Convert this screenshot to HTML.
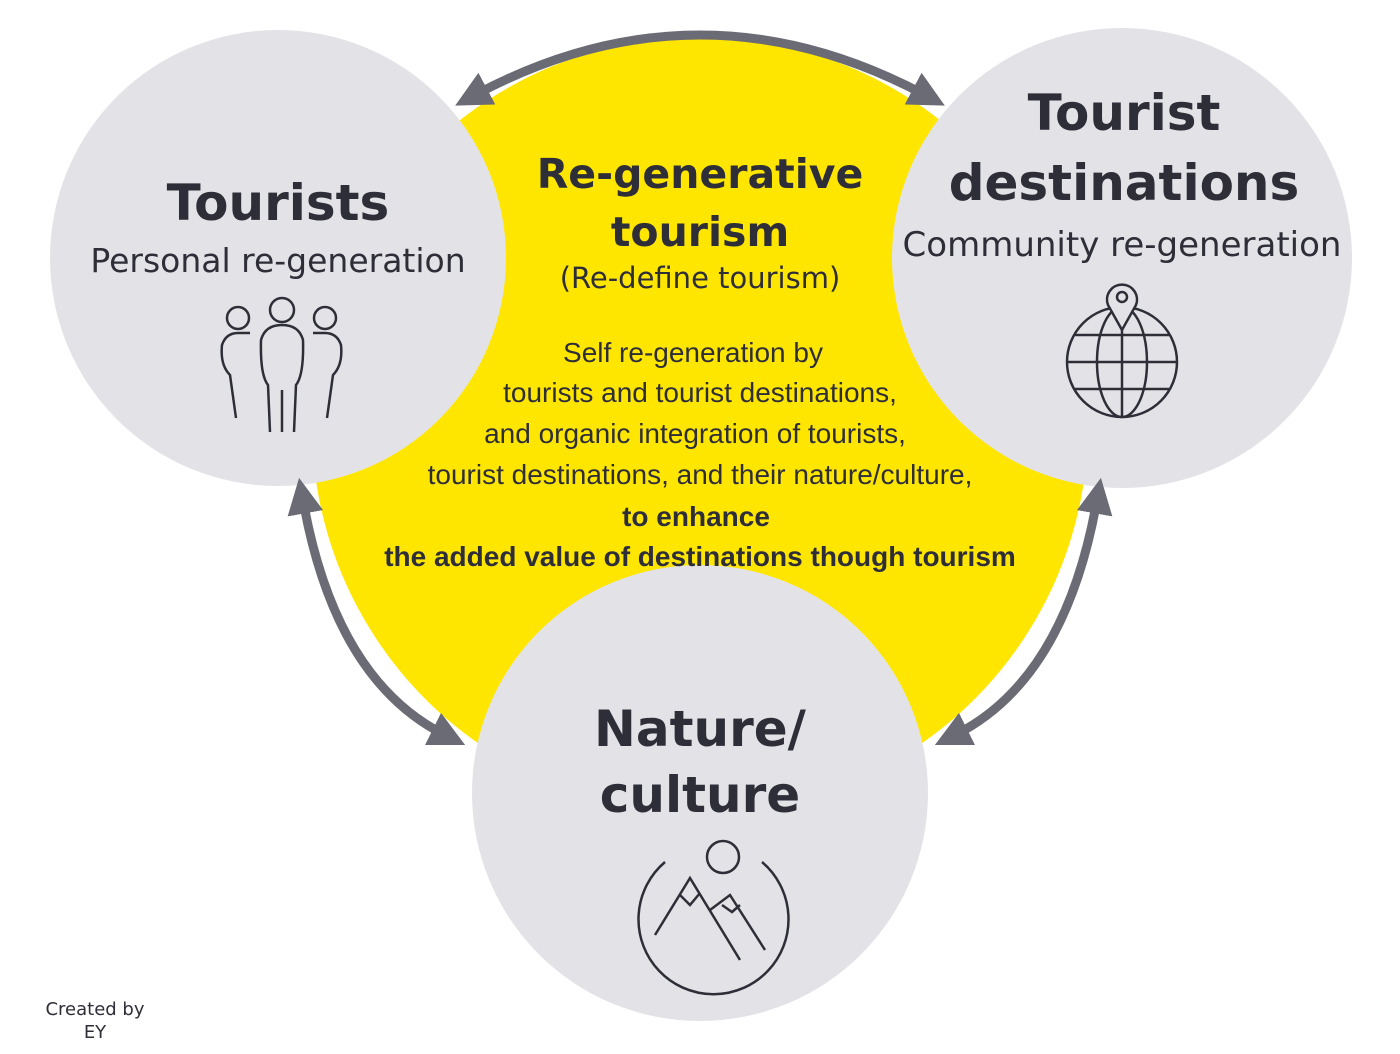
<!DOCTYPE html>
<html><head><style>
body{margin:0;background:#fff;width:1400px;height:1054px;overflow:hidden;font-family:"DejaVu Sans","Liberation Sans",sans-serif;}
svg{position:absolute;left:0;top:0}
</style></head><body>
<svg width="1400" height="1054" viewBox="0 0 1400 1054">
<defs><marker id="a" markerWidth="4" markerHeight="4" refX="1.5" refY="2" orient="auto-start-reverse" markerUnits="strokeWidth"><path d="M0,0L4,2L0,4z" fill="#6b6b76"/></marker></defs>
<circle cx="700" cy="425" r="388" fill="#ffe600"/>
<circle cx="278" cy="258" r="228" fill="#e3e3e7"/>
<circle cx="1122" cy="258" r="230" fill="#e3e3e7"/>
<circle cx="700" cy="793" r="228" fill="#e3e3e7"/>
<g fill="none" stroke="#6b6b76" stroke-width="9">
<path d="M475,95 Q700,-25 925,95" marker-start="url(#a)" marker-end="url(#a)"/>
<path d="M303,500 Q335,680 445,735" marker-start="url(#a)" marker-end="url(#a)"/>
<path d="M1097,500 Q1065,680 955,735" marker-start="url(#a)" marker-end="url(#a)"/>
</g>
<g fill="#2e2e38" text-anchor="middle" font-weight="bold">
<text x="278" y="220" font-size="50">Tourists</text>
<text x="1124" y="130" font-size="50">Tourist</text>
<text x="1124" y="200" font-size="50">destinations</text>
<text x="700" y="746" font-size="50">Nature/</text>
<text x="700" y="812" font-size="50">culture</text>
<text x="700" y="188" font-size="41">Re-generative</text>
<text x="700" y="246" font-size="41">tourism</text>
</g>
<g fill="#2e2e38" text-anchor="middle">
<text x="278" y="272" font-size="33">Personal re-generation</text>
<text x="1122" y="256" font-size="34">Community re-generation</text>
<text x="700" y="288" font-size="29">(Re-define tourism)</text>
<g font-size="28" font-family="Liberation Sans Narrow,Liberation Sans,sans-serif">
<text x="693" y="362">Self re-generation by</text>
<text x="700" y="402">tourists and tourist destinations,</text>
<text x="695" y="443">and organic integration of tourists,</text>
<text x="700" y="484">tourist destinations, and their nature/culture,</text>
<text x="696" y="526" font-weight="bold">to enhance</text>
<text x="700" y="566" font-weight="bold">the added value of destinations though tourism</text>
</g>
<text x="95" y="1015" font-size="18">Created by</text>
<text x="95" y="1038" font-size="18">EY</text>
</g>
<g fill="none" stroke="#2e2e38" stroke-width="2.5">
<circle cx="238" cy="318" r="11"/><circle cx="282" cy="310" r="12"/><circle cx="325" cy="318" r="11"/>
<path d="M236,418 L230,375 Q220,365 222,345 Q226,333 238,333 L250,333"/>
<path d="M327,418 L333,375 Q343,365 341,345 Q337,333 325,333 L313,333"/>
<path d="M270,432 L268,385 Q260,375 261,340 Q265,325 282,325 Q299,325 303,340 Q304,375 296,385 L294,432 M282,390 L282,432"/>
<circle cx="1122" cy="362" r="55"/><ellipse cx="1122" cy="362" rx="25" ry="55"/>
<path d="M1067,362H1177M1075,335H1169M1075,389H1169M1122,307V417"/>
<path d="M1122,330 L1108,305 A15,15 0 1 1 1136,305 Z" fill="#e3e3e7"/><circle cx="1122" cy="297" r="5"/>
<circle cx="723" cy="857" r="16"/>
<path d="M665,862 A75,75 0 1 0 762,862"/>
<path d="M655,935 L690,878 L740,960 M710,910 L730,895 L765,950 M680,895 L690,905 L700,893 M722,905 L732,912 L740,905"/>
</g>
</svg>
</body></html>
